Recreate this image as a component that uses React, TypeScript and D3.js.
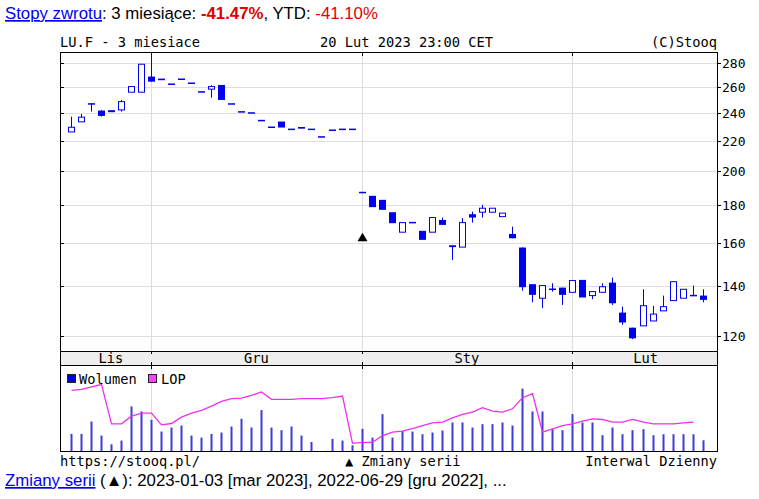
import React from "react";
import * as d3 from "d3";

const dates: string[] = [
  "2022-11-21","2022-11-22","2022-11-23","2022-11-24","2022-11-25","2022-11-28","2022-11-29","2022-11-30",
  "2022-12-01","2022-12-02","2022-12-05","2022-12-06","2022-12-07","2022-12-08","2022-12-09","2022-12-12",
  "2022-12-13","2022-12-14","2022-12-15","2022-12-16","2022-12-19","2022-12-20","2022-12-21","2022-12-22",
  "2022-12-23","2022-12-27","2022-12-28","2022-12-29","2022-12-30",
  "2023-01-03","2023-01-04","2023-01-05","2023-01-06","2023-01-09","2023-01-10","2023-01-11","2023-01-12",
  "2023-01-13","2023-01-16","2023-01-17","2023-01-18","2023-01-19","2023-01-20","2023-01-23","2023-01-24",
  "2023-01-25","2023-01-26","2023-01-27","2023-01-30","2023-01-31",
  "2023-02-01","2023-02-02","2023-02-03","2023-02-06","2023-02-07","2023-02-08","2023-02-09","2023-02-10",
  "2023-02-13","2023-02-14","2023-02-15","2023-02-16","2023-02-17","2023-02-20",
];

const open: number[] = [
  226.1,233.3,247.2,241.6,241.9,242.1,255.8,255.8,
  268.5,266.8,262.2,266.3,263.0,256.0,258.2,261.6,
  246.6,240.6,239.8,234.2,229.4,233.5,227.9,229.6,
  227.9,222.6,227.3,227.9,227.9,
  187.3,185.4,183.1,176.2,165.6,170.6,166.3,165.6,
  172.0,159.0,158.1,175.1,176.2,176.2,173.8,164.7,
  157.9,140.9,134.9,138.7,139.4,
  137.4,142.8,136.0,137.4,141.6,129.0,123.1,123.8,
  125.7,129.7,133.9,134.9,136.0,136.0,
];
const high: number[] = [
  237.1,239.1,247.2,242.0,242.2,249.7,260.3,279.0,
  289.3,266.8,262.2,266.3,263.0,256.0,261.4,261.6,
  246.6,240.6,239.8,234.2,229.4,233.5,227.9,229.6,
  227.9,222.6,227.3,227.9,227.9,
  187.3,185.4,183.1,176.2,170.6,170.6,166.3,173.3,
  173.3,159.0,173.0,176.5,180.3,178.4,175.7,168.5,
  157.9,140.9,140.3,141.3,139.4,
  142.8,142.8,137.7,141.3,143.8,131.4,123.1,138.7,
  131.7,136.0,142.0,138.7,140.3,138.7,
];
const low: number[] = [
  226.1,233.3,240.8,237.2,240.2,240.8,255.8,255.8,
  264.3,265.5,262.2,266.3,263.0,256.0,251.5,249.7,
  246.6,240.6,239.8,234.2,229.4,229.2,227.9,228.4,
  227.9,222.6,227.3,227.9,227.9,
  187.3,179.0,177.5,170.3,165.6,170.6,161.7,165.6,
  169.4,151.9,158.1,170.6,173.3,176.2,173.8,162.5,
  138.1,133.2,130.8,137.7,132.1,
  137.4,135.2,134.5,137.4,132.1,124.2,118.8,123.8,
  125.7,129.7,133.9,134.9,136.0,133.2,
];
const close: number[] = [
  229.4,236.7,246.3,237.6,240.4,248.4,260.3,279.0,
  264.3,265.5,262.2,266.3,263.0,256.0,260.3,249.7,
  246.6,240.6,239.8,234.2,229.4,229.2,227.9,228.4,
  227.9,222.6,227.3,227.9,227.9,
  187.3,179.0,177.5,170.3,170.6,170.6,161.7,173.3,
  169.4,158.1,170.6,173.3,178.4,178.4,175.7,162.5,
  139.6,136.3,140.3,138.7,136.3,
  142.5,135.2,137.7,139.8,132.8,125.1,119.1,131.8,
  128.4,131.4,142.0,138.7,136.0,134.2,
];
const volume: number[] = [
  51,51,88,46,20,31,133,118,
  93,58,70,76,46,40,51,55,
  73,96,70,122,70,62,73,46,
  27,0,36,31,17,
  66,40,110,40,60,58,50,55,
  61,85,85,70,80,80,85,76,
  186,118,118,65,62,
  110,85,85,47,70,50,62,65,
  47,50,50,50,50,32,
];
const lop: (number | null)[] = [
  181,184,191,198,81,81,104,113,
  113,78,82,101,113,121,134,148,
  156,158,166,176,154,154,154,156,
  156,156,159,164,23,
  26,26,46,56,59,67,76,84,
  86,99,109,116,129,119,116,126,
  159,171,56,66,76,
  81,89,96,94,86,86,94,86,
  81,81,81,84,86,null,
];
const yTicks: number[] = [120, 140, 160, 180, 200, 220, 240, 260, 280];
const monthNames: string[] = ["Lis", "Gru", "Sty", "Lut"];
const seriesChanges: { date: string; level: number }[] = [{ date: "2023-01-03", level: 161 }];

const MONO = "'DejaVu Sans Mono', monospace";
const SANS = "'Liberation Sans', Arial, sans-serif";
const BLUE = "#0000ee";

export default function App() {
  const L = 60, R = 717;
  const T = 52, B = 351; // main panel
  const bandB = 365;
  const vT = 365, vB = 451; // volume panel

  const x = d3.scalePoint<string>().domain(dates).range([70.7, 702.7]);
  const y = d3.scaleLog().domain([114.5, 289.8]).range([B, T]);
  const yv = d3.scaleLinear().domain([0, 255]).range([vB, vT + 0.5]);
  const yl = d3.scaleLinear().domain([0, 255]).range([vB, vT + 0.5]);

  const starts: number[] = [];
  dates.forEach((d, i) => {
    if (i === 0 || d.slice(0, 7) !== dates[i - 1].slice(0, 7)) starts.push(i);
  });
  const boundaries = starts.slice(1).map((i) => Math.round(x(dates[i])!) + 0.5);
  const monthLabels = starts.map((s, k) => {
    const left = x(dates[s])!;
    const right = k + 1 < starts.length ? x(dates[starts[k + 1]])! : R + 2;
    return { name: monthNames[k], cx: (left + right) / 2 };
  });

  const lopLine = d3
    .line<number | null>()
    .defined((d) => d !== null)
    .x((_, i) => Math.round(x(dates[i])!) + 0.5)
    .y((d) => yl(d as number));

  return (
    <div style={{ position: "absolute", left: 0, top: 0 }}>
      <svg width={759} height={499} style={{ display: "block", background: "#fff" }}>
        <text x={5} y={19} fontFamily={SANS} fontSize={16.8} style={{ whiteSpace: "pre" }}>
          <tspan fill={BLUE} textDecoration="underline">Stopy zwrotu</tspan>
          <tspan fill="#000">: 3 miesiące: </tspan>
          <tspan fill="#e00000" fontWeight="bold">-41.47%</tspan>
          <tspan fill="#000">, YTD: </tspan>
          <tspan fill="#e00000">-41.10%</tspan>
        </text>

        <g fontFamily={MONO} fontSize={13.7} fill="#000">
          <text x={L} y={47}>LU.F - 3 miesiace</text>
          <text x={320} y={47}>20 Lut 2023 23:00 CET</text>
          <text x={R} y={47} textAnchor="end">(C)Stooq</text>
        </g>

        <g>
          {yTicks.map((v) => {
            const yy = Math.round(y(v)) + 0.5;
            return (
              <g key={v}>
                <line x1={L} x2={R} y1={yy} y2={yy} stroke="#dddddd" />
                <line x1={L} x2={L + 4} y1={yy} y2={yy} stroke="#000" />
                <line x1={R} x2={R + 4} y1={yy} y2={yy} stroke="#000" />
                <text x={R + 5} y={yy + 4.5} fontFamily={MONO} fontSize={13} fill="#000">{v}</text>
              </g>
            );
          })}
          {boundaries.map((bx, i) => (
            <g key={i}>
              <line x1={bx} x2={bx} y1={T} y2={B} stroke="#dddddd" />
              <line x1={bx} x2={bx} y1={T} y2={T + 4} stroke="#000" />
              <line x1={bx} x2={bx} y1={vT} y2={vB} stroke="#dddddd" />
              <line x1={bx} x2={bx} y1={vT} y2={vT + 4} stroke="#000" />
            </g>
          ))}
        </g>

        <g>
          {dates.map((d, i) => {
            const cx = Math.round(x(d)!);
            const o = open[i], c = close[i], h = high[i], l = low[i];
            const yo = y(o), yc = y(c), yh = y(h), yl2 = y(l);
            const top = Math.min(yo, yc), bot = Math.max(yo, yc);
            const up = c > o;
            const flat = Math.abs(c - o) < 0.05;
            return (
              <g key={d}>
                {(yh < top - 0.5 || yl2 > bot + 0.5) && (
                  <rect x={cx} y={yh} width={1} height={Math.max(0.5, yl2 - yh)} fill={BLUE} />
                )}
                {flat ? (
                  <rect x={cx - 3} y={yo - 0.75} width={7} height={1.5} fill={BLUE} />
                ) : up ? (
                  <rect x={cx - 2.5} y={top} width={6} height={Math.max(1, bot - top)} fill="#fff" stroke={BLUE} strokeWidth={1} />
                ) : (
                  <rect x={cx - 3} y={top} width={7} height={Math.max(1.5, bot - top)} fill={BLUE} />
                )}
              </g>
            );
          })}
          {seriesChanges.map((s) => {
            const cx = Math.round(x(s.date)!) + 0.5;
            const ty = y(s.level);
            return (
              <path key={s.date} d={`M${cx},${ty - 8.5} L${cx + 5},${ty} L${cx - 5},${ty} Z`} fill="#000" />
            );
          })}
        </g>

        <rect x={L + 0.5} y={T + 0.5} width={R - L} height={B - T} fill="none" stroke="#000" />

        <rect x={L + 0.5} y={B + 0.5} width={R - L} height={bandB - B} fill="#eeeeee" stroke="#000" />
        {boundaries.map((bx, i) => (
          <g key={"bt" + i}>
            <line x1={bx} x2={bx} y1={B} y2={B + 3} stroke="#000" />
            <line x1={bx} x2={bx} y1={bandB - 3} y2={bandB} stroke="#000" />
          </g>
        ))}
        <g fontFamily={MONO} fontSize={13.7} fill="#000" textAnchor="middle">
          {monthLabels.map((m) => (
            <text key={m.name} x={m.cx} y={bandB - 2.5}>{m.name}</text>
          ))}
        </g>

        <g>
          {dates.map((d, i) =>
            volume[i] > 0 ? (
              <rect
                key={"v" + d}
                x={Math.round(x(d)!) - 0.5}
                y={yv(volume[i])}
                width={2}
                height={vB - yv(volume[i])}
                fill="#3c3cd8"
              />
            ) : null
          )}
          <path d={lopLine(lop) || ""} fill="none" stroke="#ee30ee" strokeWidth={1.3} />
        </g>
        <rect x={L + 0.5} y={vT + 0.5} width={R - L} height={vB - vT} fill="none" stroke="#000" />
        <g fontFamily={MONO} fontSize={13.7} fill="#000">
          <rect x={67.5} y={374.5} width={8} height={8} fill="#0000cc" stroke="#222" />
          <text x={79} y={383.5}>Wolumen</text>
          <rect x={148.5} y={374.5} width={8} height={8} fill="#ff40ff" stroke="#222" />
          <text x={161} y={383.5}>LOP</text>
        </g>

        <g fontFamily={MONO} fontSize={13.7} fill="#000">
          <text x={L} y={465.5}>https://stooq.pl/</text>
          <text x={345} y={465.5}>▲ Zmiany serii</text>
          <text x={R} y={465.5} textAnchor="end">Interwal Dzienny</text>
        </g>

        <text x={5} y={486} fontFamily={SANS} fontSize={16.8} style={{ whiteSpace: "pre" }}>
          <tspan fill={BLUE} textDecoration="underline">Zmiany serii</tspan>
          <tspan fill="#000"> (▲): 2023-01-03 [mar 2023], 2022-06-29 [gru 2022], ...</tspan>
        </text>
      </svg>
    </div>
  );
}
